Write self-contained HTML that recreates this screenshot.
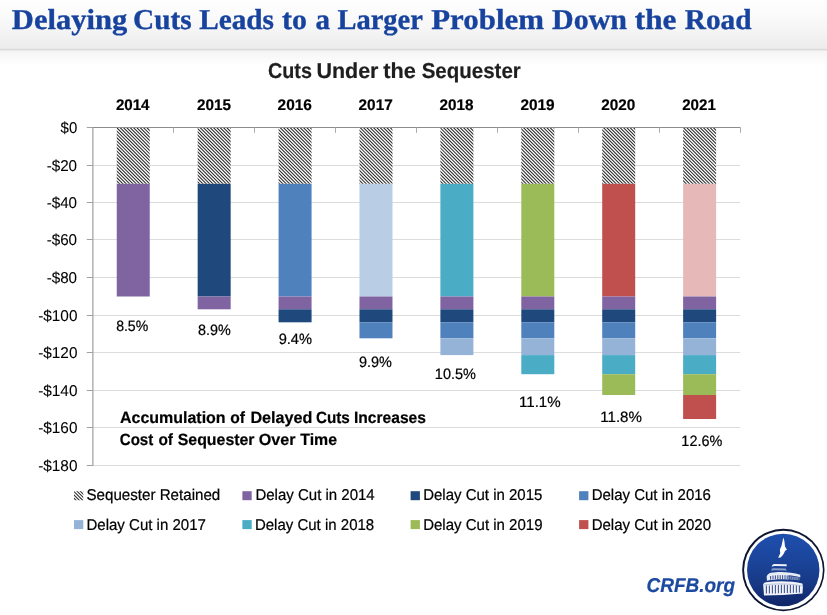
<!DOCTYPE html>
<html lang="en">
<head>
<meta charset="utf-8">
<title>Delaying Cuts Leads to a Larger Problem Down the Road</title>
<style>
html,body{margin:0;padding:0;background:#fff;}
body{width:827px;height:615px;overflow:hidden;}
svg{display:block;}
text{white-space:pre;text-rendering:geometricPrecision;}
.t{font-family:"Liberation Serif",serif;font-weight:bold;fill:#17439E;stroke:#17439E;stroke-width:0.35px;}
.s{font-family:"Liberation Sans",sans-serif;fill:#000;}
.r{stroke:#000;stroke-width:0.22px;}
.y{stroke:#000;stroke-width:0.08px;}
.b{font-weight:bold;stroke:#000;stroke-width:0.2px;}
.ct{fill:#1e1e1e;stroke:#1e1e1e;}
.cr{font-style:italic;fill:#1C4AA0;stroke:#1C4AA0;}
</style>
</head>
<body>
<svg width="827" height="615" viewBox="0 0 827 615" role="img" aria-label="Delaying Cuts Leads to a Larger Problem Down the Road">
<defs>
<linearGradient id="hd" x1="0" y1="0" x2="0" y2="1">
<stop offset="0" stop-color="#fefefe"/><stop offset="0.3" stop-color="#fbfbfb"/><stop offset="0.65" stop-color="#f4f4f4"/><stop offset="1" stop-color="#ebebeb"/>
</linearGradient>
<linearGradient id="hs" x1="0" y1="0" x2="0" y2="1">
<stop offset="0" stop-color="#f4f4f4"/><stop offset="1" stop-color="#ffffff"/>
</linearGradient>
<linearGradient id="lg" x1="0" y1="0" x2="0" y2="1">
<stop offset="0" stop-color="#1E4FAE"/><stop offset="0.35" stop-color="#1B459C"/><stop offset="0.7" stop-color="#173884"/><stop offset="1" stop-color="#112568"/>
</linearGradient>
<clipPath id="hc">
<rect x="116.75" y="127.50" width="33.00" height="56.30"/>
<rect x="197.66" y="127.50" width="33.00" height="56.30"/>
<rect x="278.57" y="127.50" width="33.00" height="56.30"/>
<rect x="359.48" y="127.50" width="33.00" height="56.30"/>
<rect x="440.39" y="127.50" width="33.00" height="56.30"/>
<rect x="521.30" y="127.50" width="33.00" height="56.30"/>
<rect x="602.21" y="127.50" width="33.00" height="56.30"/>
<rect x="683.12" y="127.50" width="33.00" height="56.30"/>
<rect x="74.00" y="491.20" width="9.30" height="9.00"/>
</clipPath>
</defs>
<rect x="0" y="0" width="827" height="615" fill="#fff"/>
<g id="header">
<rect x="0" y="0" width="827" height="49" fill="url(#hd)"/>
<rect x="0" y="48.8" width="827" height="2" fill="#dadada"/>
<rect x="0" y="50.6" width="827" height="15" fill="url(#hs)"/>
<text class="t" y="29.0" font-size="28.8"><tspan x="11.86" textLength="115.33" lengthAdjust="spacingAndGlyphs">Delaying</tspan> <tspan x="133.02" textLength="58.63" lengthAdjust="spacingAndGlyphs">Cuts</tspan> <tspan x="199.15" textLength="74.86" lengthAdjust="spacingAndGlyphs">Leads</tspan> <tspan x="282.12" textLength="24.92" lengthAdjust="spacingAndGlyphs">to</tspan> <tspan x="315.44" textLength="14.48" lengthAdjust="spacingAndGlyphs">a</tspan> <tspan x="337.40" textLength="85.02" lengthAdjust="spacingAndGlyphs">Larger</tspan> <tspan x="431.26" textLength="112.72" lengthAdjust="spacingAndGlyphs">Problem</tspan> <tspan x="552.11" textLength="74.93" lengthAdjust="spacingAndGlyphs">Down</tspan> <tspan x="634.84" textLength="41.59" lengthAdjust="spacingAndGlyphs">the</tspan> <tspan x="684.72" textLength="66.77" lengthAdjust="spacingAndGlyphs">Road</tspan></text>
</g>
<g id="chart">
<text class="s b ct" y="77.8" font-size="21.6"><tspan x="267.98" textLength="43.93" lengthAdjust="spacingAndGlyphs">Cuts</tspan> <tspan x="316.39" textLength="62.06" lengthAdjust="spacingAndGlyphs">Under</tspan> <tspan x="383.26" textLength="32.61" lengthAdjust="spacingAndGlyphs">the</tspan> <tspan x="421.65" textLength="99.14" lengthAdjust="spacingAndGlyphs">Sequester</tspan></text>
<g id="gridlines" fill="#dcdcdc">
<rect x="93.0" y="165" width="647.3" height="1"/>
<rect x="93.0" y="202" width="647.3" height="1"/>
<rect x="93.0" y="239" width="647.3" height="1"/>
<rect x="93.0" y="277" width="647.3" height="1"/>
<rect x="93.0" y="315" width="647.3" height="1"/>
<rect x="93.0" y="352" width="647.3" height="1"/>
<rect x="93.0" y="390" width="647.3" height="1"/>
<rect x="93.0" y="427" width="647.3" height="1"/>
<rect x="93.0" y="465" width="647.3" height="1"/>
</g>
<g id="bars">
<rect x="116.75" y="127.5" width="33.0" height="56.30" fill="#fff"/>
<rect x="116.75" y="183.80" width="33.0" height="112.70" fill="#8064A2"/>
<rect x="197.66" y="127.5" width="33.0" height="56.30" fill="#fff"/>
<rect x="197.66" y="183.80" width="33.0" height="112.70" fill="#1F497D"/>
<rect x="197.66" y="296.50" width="33.0" height="12.80" fill="#8064A2"/>
<rect x="278.57" y="127.5" width="33.0" height="56.30" fill="#fff"/>
<rect x="278.57" y="183.80" width="33.0" height="112.70" fill="#4F81BD"/>
<rect x="278.57" y="296.50" width="33.0" height="12.80" fill="#8064A2"/>
<rect x="278.57" y="309.30" width="33.0" height="13.00" fill="#1F497D"/>
<rect x="359.48" y="127.5" width="33.0" height="56.30" fill="#fff"/>
<rect x="359.48" y="183.80" width="33.0" height="112.70" fill="#B9CDE5"/>
<rect x="359.48" y="296.50" width="33.0" height="12.80" fill="#8064A2"/>
<rect x="359.48" y="309.30" width="33.0" height="13.00" fill="#1F497D"/>
<rect x="359.48" y="322.30" width="33.0" height="16.00" fill="#4F81BD"/>
<rect x="440.39" y="127.5" width="33.0" height="56.30" fill="#fff"/>
<rect x="440.39" y="183.80" width="33.0" height="112.70" fill="#4BACC6"/>
<rect x="440.39" y="296.50" width="33.0" height="12.80" fill="#8064A2"/>
<rect x="440.39" y="309.30" width="33.0" height="13.00" fill="#1F497D"/>
<rect x="440.39" y="322.30" width="33.0" height="16.00" fill="#4F81BD"/>
<rect x="440.39" y="338.30" width="33.0" height="16.80" fill="#95B3D7"/>
<rect x="521.30" y="127.5" width="33.0" height="56.30" fill="#fff"/>
<rect x="521.30" y="183.80" width="33.0" height="112.70" fill="#9BBB59"/>
<rect x="521.30" y="296.50" width="33.0" height="12.80" fill="#8064A2"/>
<rect x="521.30" y="309.30" width="33.0" height="13.00" fill="#1F497D"/>
<rect x="521.30" y="322.30" width="33.0" height="16.00" fill="#4F81BD"/>
<rect x="521.30" y="338.30" width="33.0" height="16.80" fill="#95B3D7"/>
<rect x="521.30" y="355.10" width="33.0" height="19.10" fill="#4BACC6"/>
<rect x="602.21" y="127.5" width="33.0" height="56.30" fill="#fff"/>
<rect x="602.21" y="183.80" width="33.0" height="112.70" fill="#C0504D"/>
<rect x="602.21" y="296.50" width="33.0" height="12.80" fill="#8064A2"/>
<rect x="602.21" y="309.30" width="33.0" height="13.00" fill="#1F497D"/>
<rect x="602.21" y="322.30" width="33.0" height="16.00" fill="#4F81BD"/>
<rect x="602.21" y="338.30" width="33.0" height="16.80" fill="#95B3D7"/>
<rect x="602.21" y="355.10" width="33.0" height="19.10" fill="#4BACC6"/>
<rect x="602.21" y="374.20" width="33.0" height="20.80" fill="#9BBB59"/>
<rect x="683.12" y="127.5" width="33.0" height="56.30" fill="#fff"/>
<rect x="683.12" y="183.80" width="33.0" height="112.70" fill="#E6B9B8"/>
<rect x="683.12" y="296.50" width="33.0" height="12.80" fill="#8064A2"/>
<rect x="683.12" y="309.30" width="33.0" height="13.00" fill="#1F497D"/>
<rect x="683.12" y="322.30" width="33.0" height="16.00" fill="#4F81BD"/>
<rect x="683.12" y="338.30" width="33.0" height="16.80" fill="#95B3D7"/>
<rect x="683.12" y="355.10" width="33.0" height="19.10" fill="#4BACC6"/>
<rect x="683.12" y="374.20" width="33.0" height="20.80" fill="#9BBB59"/>
<rect x="683.12" y="395.00" width="33.0" height="24.00" fill="#C0504D"/>
<path clip-path="url(#hc)" d="M115.8,90.0L150.8,125.0M115.8,93.3L150.8,128.3M115.8,96.7L150.8,131.7M115.8,100.0L150.8,135.0M115.8,103.3L150.8,138.3M115.8,106.7L150.8,141.7M115.8,110.0L150.8,145.0M115.8,113.3L150.8,148.3M115.8,116.7L150.8,151.7M115.8,120.0L150.8,155.0M115.8,123.3L150.8,158.3M115.8,126.7L150.8,161.7M115.8,130.0L150.8,165.0M115.8,133.3L150.8,168.3M115.8,136.7L150.8,171.7M115.8,140.0L150.8,175.0M115.8,143.3L150.8,178.3M115.8,146.7L150.8,181.7M115.8,150.0L150.8,185.0M115.8,153.3L150.8,188.3M115.8,156.7L150.8,191.7M115.8,160.0L150.8,195.0M115.8,163.3L150.8,198.3M115.8,166.7L150.8,201.7M115.8,170.0L150.8,205.0M115.8,173.3L150.8,208.3M115.8,176.7L150.8,211.7M115.8,180.0L150.8,215.0M115.8,183.3L150.8,218.3M115.8,186.7L150.8,221.7M115.8,190.0L150.8,225.0M196.7,90.9L231.7,125.9M196.7,94.2L231.7,129.2M196.7,97.6L231.7,132.6M196.7,100.9L231.7,135.9M196.7,104.2L231.7,139.2M196.7,107.6L231.7,142.6M196.7,110.9L231.7,145.9M196.7,114.2L231.7,149.2M196.7,117.6L231.7,152.6M196.7,120.9L231.7,155.9M196.7,124.2L231.7,159.2M196.7,127.6L231.7,162.6M196.7,130.9L231.7,165.9M196.7,134.2L231.7,169.2M196.7,137.6L231.7,172.6M196.7,140.9L231.7,175.9M196.7,144.2L231.7,179.2M196.7,147.6L231.7,182.6M196.7,150.9L231.7,185.9M196.7,154.2L231.7,189.2M196.7,157.6L231.7,192.6M196.7,160.9L231.7,195.9M196.7,164.2L231.7,199.2M196.7,167.6L231.7,202.6M196.7,170.9L231.7,205.9M196.7,174.2L231.7,209.2M196.7,177.6L231.7,212.6M196.7,180.9L231.7,215.9M196.7,184.2L231.7,219.2M196.7,187.6L231.7,222.6M277.6,88.5L312.6,123.5M277.6,91.8L312.6,126.8M277.6,95.1L312.6,130.1M277.6,98.5L312.6,133.5M277.6,101.8L312.6,136.8M277.6,105.1L312.6,140.1M277.6,108.5L312.6,143.5M277.6,111.8L312.6,146.8M277.6,115.1L312.6,150.1M277.6,118.5L312.6,153.5M277.6,121.8L312.6,156.8M277.6,125.1L312.6,160.1M277.6,128.5L312.6,163.5M277.6,131.8L312.6,166.8M277.6,135.1L312.6,170.1M277.6,138.5L312.6,173.5M277.6,141.8L312.6,176.8M277.6,145.1L312.6,180.1M277.6,148.5L312.6,183.5M277.6,151.8L312.6,186.8M277.6,155.1L312.6,190.1M277.6,158.5L312.6,193.5M277.6,161.8L312.6,196.8M277.6,165.1L312.6,200.1M277.6,168.5L312.6,203.5M277.6,171.8L312.6,206.8M277.6,175.1L312.6,210.1M277.6,178.5L312.6,213.5M277.6,181.8L312.6,216.8M277.6,185.1L312.6,220.1M277.6,188.5L312.6,223.5M358.5,89.4L393.5,124.4M358.5,92.7L393.5,127.7M358.5,96.0L393.5,131.0M358.5,99.4L393.5,134.4M358.5,102.7L393.5,137.7M358.5,106.0L393.5,141.0M358.5,109.4L393.5,144.4M358.5,112.7L393.5,147.7M358.5,116.0L393.5,151.0M358.5,119.4L393.5,154.4M358.5,122.7L393.5,157.7M358.5,126.0L393.5,161.0M358.5,129.4L393.5,164.4M358.5,132.7L393.5,167.7M358.5,136.0L393.5,171.0M358.5,139.4L393.5,174.4M358.5,142.7L393.5,177.7M358.5,146.0L393.5,181.0M358.5,149.4L393.5,184.4M358.5,152.7L393.5,187.7M358.5,156.0L393.5,191.0M358.5,159.4L393.5,194.4M358.5,162.7L393.5,197.7M358.5,166.0L393.5,201.0M358.5,169.4L393.5,204.4M358.5,172.7L393.5,207.7M358.5,176.0L393.5,211.0M358.5,179.4L393.5,214.4M358.5,182.7L393.5,217.7M358.5,186.0L393.5,221.0M358.5,189.4L393.5,224.4M439.4,90.3L474.4,125.3M439.4,93.6L474.4,128.6M439.4,97.0L474.4,132.0M439.4,100.3L474.4,135.3M439.4,103.6L474.4,138.6M439.4,107.0L474.4,142.0M439.4,110.3L474.4,145.3M439.4,113.6L474.4,148.6M439.4,117.0L474.4,152.0M439.4,120.3L474.4,155.3M439.4,123.6L474.4,158.6M439.4,127.0L474.4,162.0M439.4,130.3L474.4,165.3M439.4,133.6L474.4,168.6M439.4,137.0L474.4,172.0M439.4,140.3L474.4,175.3M439.4,143.6L474.4,178.6M439.4,147.0L474.4,182.0M439.4,150.3L474.4,185.3M439.4,153.6L474.4,188.6M439.4,157.0L474.4,192.0M439.4,160.3L474.4,195.3M439.4,163.6L474.4,198.6M439.4,167.0L474.4,202.0M439.4,170.3L474.4,205.3M439.4,173.6L474.4,208.6M439.4,177.0L474.4,212.0M439.4,180.3L474.4,215.3M439.4,183.6L474.4,218.6M439.4,187.0L474.4,222.0M439.4,190.3L474.4,225.3M520.3,87.9L555.3,122.9M520.3,91.2L555.3,126.2M520.3,94.5L555.3,129.5M520.3,97.9L555.3,132.9M520.3,101.2L555.3,136.2M520.3,104.5L555.3,139.5M520.3,107.9L555.3,142.9M520.3,111.2L555.3,146.2M520.3,114.5L555.3,149.5M520.3,117.9L555.3,152.9M520.3,121.2L555.3,156.2M520.3,124.5L555.3,159.5M520.3,127.9L555.3,162.9M520.3,131.2L555.3,166.2M520.3,134.5L555.3,169.5M520.3,137.9L555.3,172.9M520.3,141.2L555.3,176.2M520.3,144.5L555.3,179.5M520.3,147.9L555.3,182.9M520.3,151.2L555.3,186.2M520.3,154.5L555.3,189.5M520.3,157.9L555.3,192.9M520.3,161.2L555.3,196.2M520.3,164.5L555.3,199.5M520.3,167.9L555.3,202.9M520.3,171.2L555.3,206.2M520.3,174.5L555.3,209.5M520.3,177.9L555.3,212.9M520.3,181.2L555.3,216.2M520.3,184.5L555.3,219.5M520.3,187.9L555.3,222.9M601.2,88.8L636.2,123.8M601.2,92.1L636.2,127.1M601.2,95.4L636.2,130.4M601.2,98.8L636.2,133.8M601.2,102.1L636.2,137.1M601.2,105.4L636.2,140.4M601.2,108.8L636.2,143.8M601.2,112.1L636.2,147.1M601.2,115.4L636.2,150.4M601.2,118.8L636.2,153.8M601.2,122.1L636.2,157.1M601.2,125.4L636.2,160.4M601.2,128.8L636.2,163.8M601.2,132.1L636.2,167.1M601.2,135.4L636.2,170.4M601.2,138.8L636.2,173.8M601.2,142.1L636.2,177.1M601.2,145.4L636.2,180.4M601.2,148.8L636.2,183.8M601.2,152.1L636.2,187.1M601.2,155.4L636.2,190.4M601.2,158.8L636.2,193.8M601.2,162.1L636.2,197.1M601.2,165.4L636.2,200.4M601.2,168.8L636.2,203.8M601.2,172.1L636.2,207.1M601.2,175.4L636.2,210.4M601.2,178.8L636.2,213.8M601.2,182.1L636.2,217.1M601.2,185.4L636.2,220.4M601.2,188.8L636.2,223.8M682.1,89.7L717.1,124.7M682.1,93.0L717.1,128.0M682.1,96.4L717.1,131.4M682.1,99.7L717.1,134.7M682.1,103.0L717.1,138.0M682.1,106.4L717.1,141.4M682.1,109.7L717.1,144.7M682.1,113.0L717.1,148.0M682.1,116.4L717.1,151.4M682.1,119.7L717.1,154.7M682.1,123.0L717.1,158.0M682.1,126.4L717.1,161.4M682.1,129.7L717.1,164.7M682.1,133.0L717.1,168.0M682.1,136.4L717.1,171.4M682.1,139.7L717.1,174.7M682.1,143.0L717.1,178.0M682.1,146.4L717.1,181.4M682.1,149.7L717.1,184.7M682.1,153.0L717.1,188.0M682.1,156.4L717.1,191.4M682.1,159.7L717.1,194.7M682.1,163.0L717.1,198.0M682.1,166.4L717.1,201.4M682.1,169.7L717.1,204.7M682.1,173.0L717.1,208.0M682.1,176.4L717.1,211.4M682.1,179.7L717.1,214.7M682.1,183.0L717.1,218.0M682.1,186.4L717.1,221.4M682.1,189.7L717.1,224.7M73.0,477.2L84.3,488.5M73.0,480.6L84.3,491.9M73.0,483.9L84.3,495.2M73.0,487.2L84.3,498.5M73.0,490.6L84.3,501.9M73.0,493.9L84.3,505.2M73.0,497.2L84.3,508.5M73.0,500.6L84.3,511.9M73.0,503.9L84.3,515.2" stroke="#2a2a2a" stroke-width="1.06" fill="none"/>
</g>
<g id="axes">
<rect x="92.4" y="127.0" width="1" height="338.95" fill="#8c8c8c"/>
<rect x="92.5" y="127.0" width="647.8" height="1" fill="#8c8c8c"/>
<rect x="86.8" y="127" width="6" height="1" fill="#a0a0a0"/>
<rect x="86.8" y="165" width="6" height="1" fill="#a0a0a0"/>
<rect x="86.8" y="202" width="6" height="1" fill="#a0a0a0"/>
<rect x="86.8" y="239" width="6" height="1" fill="#a0a0a0"/>
<rect x="86.8" y="277" width="6" height="1" fill="#a0a0a0"/>
<rect x="86.8" y="315" width="6" height="1" fill="#a0a0a0"/>
<rect x="86.8" y="352" width="6" height="1" fill="#a0a0a0"/>
<rect x="86.8" y="390" width="6" height="1" fill="#a0a0a0"/>
<rect x="86.8" y="427" width="6" height="1" fill="#a0a0a0"/>
<rect x="86.8" y="465" width="6" height="1" fill="#a0a0a0"/>
<rect x="173" y="127.5" width="1" height="5.3" fill="#aaaaaa"/>
<rect x="254" y="127.5" width="1" height="5.3" fill="#aaaaaa"/>
<rect x="335" y="127.5" width="1" height="5.3" fill="#aaaaaa"/>
<rect x="416" y="127.5" width="1" height="5.3" fill="#aaaaaa"/>
<rect x="497" y="127.5" width="1" height="5.3" fill="#aaaaaa"/>
<rect x="578" y="127.5" width="1" height="5.3" fill="#aaaaaa"/>
<rect x="659" y="127.5" width="1" height="5.3" fill="#aaaaaa"/>
<rect x="740" y="127.5" width="1" height="5.3" fill="#aaaaaa"/>
</g>
<g id="yearlabels">
<text class="s b" x="115.89" y="110.3" font-size="15.4" textLength="33.65" lengthAdjust="spacingAndGlyphs">2014</text>
<text class="s b" x="196.93" y="110.3" font-size="15.4" textLength="34.00" lengthAdjust="spacingAndGlyphs">2015</text>
<text class="s b" x="277.55" y="110.3" font-size="15.4" textLength="34.33" lengthAdjust="spacingAndGlyphs">2016</text>
<text class="s b" x="358.59" y="110.3" font-size="15.4" textLength="34.12" lengthAdjust="spacingAndGlyphs">2017</text>
<text class="s b" x="439.40" y="110.3" font-size="15.4" textLength="34.02" lengthAdjust="spacingAndGlyphs">2018</text>
<text class="s b" x="520.38" y="110.3" font-size="15.4" textLength="34.21" lengthAdjust="spacingAndGlyphs">2019</text>
<text class="s b" x="601.17" y="110.3" font-size="15.4" textLength="34.06" lengthAdjust="spacingAndGlyphs">2020</text>
<text class="s b" x="682.20" y="110.3" font-size="15.4" textLength="33.68" lengthAdjust="spacingAndGlyphs">2021</text>
</g>
<g id="ylabels">
<text class="s y" x="60.61" y="132.6" font-size="15.7" textLength="16.63" lengthAdjust="spacingAndGlyphs">$0</text>
<text class="s y" x="46.63" y="170.6" font-size="15.7" textLength="30.47" lengthAdjust="spacingAndGlyphs">-$20</text>
<text class="s y" x="46.63" y="207.6" font-size="15.7" textLength="30.47" lengthAdjust="spacingAndGlyphs">-$40</text>
<text class="s y" x="46.63" y="244.6" font-size="15.7" textLength="30.47" lengthAdjust="spacingAndGlyphs">-$60</text>
<text class="s y" x="46.63" y="282.6" font-size="15.7" textLength="30.47" lengthAdjust="spacingAndGlyphs">-$80</text>
<text class="s y" x="38.16" y="320.6" font-size="15.7" textLength="39.26" lengthAdjust="spacingAndGlyphs">-$100</text>
<text class="s y" x="38.16" y="357.6" font-size="15.7" textLength="39.26" lengthAdjust="spacingAndGlyphs">-$120</text>
<text class="s y" x="38.16" y="395.6" font-size="15.7" textLength="39.26" lengthAdjust="spacingAndGlyphs">-$140</text>
<text class="s y" x="38.16" y="432.6" font-size="15.7" textLength="39.26" lengthAdjust="spacingAndGlyphs">-$160</text>
<text class="s y" x="38.16" y="470.6" font-size="15.7" textLength="39.26" lengthAdjust="spacingAndGlyphs">-$180</text>
</g>
<g id="datalabels">
<text class="s r" x="116.15" y="330.9" font-size="15.0" textLength="32.05" lengthAdjust="spacingAndGlyphs">8.5%</text>
<text class="s r" x="197.97" y="334.5" font-size="15.0" textLength="32.72" lengthAdjust="spacingAndGlyphs">8.9%</text>
<text class="s r" x="278.68" y="344.3" font-size="15.0" textLength="33.29" lengthAdjust="spacingAndGlyphs">9.4%</text>
<text class="s r" x="359.07" y="366.9" font-size="15.0" textLength="32.90" lengthAdjust="spacingAndGlyphs">9.9%</text>
<text class="s r" x="434.86" y="379.1" font-size="15.0" textLength="41.05" lengthAdjust="spacingAndGlyphs">10.5%</text>
<text class="s r" x="519.00" y="406.5" font-size="15.0" textLength="41.66" lengthAdjust="spacingAndGlyphs">11.1%</text>
<text class="s r" x="600.24" y="422.2" font-size="15.0" textLength="41.67" lengthAdjust="spacingAndGlyphs">11.8%</text>
<text class="s r" x="681.36" y="446.2" font-size="15.0" textLength="40.94" lengthAdjust="spacingAndGlyphs">12.6%</text>
</g>
<g id="annotation">
<text class="s b" y="422.9" font-size="16.3"><tspan x="119.96" textLength="105.64" lengthAdjust="spacingAndGlyphs">Accumulation</tspan> <tspan x="230.16" textLength="14.75" lengthAdjust="spacingAndGlyphs">of</tspan> <tspan x="250.42" textLength="62.03" lengthAdjust="spacingAndGlyphs">Delayed</tspan> <tspan x="315.89" textLength="33.88" lengthAdjust="spacingAndGlyphs">Cuts</tspan> <tspan x="354.02" textLength="71.95" lengthAdjust="spacingAndGlyphs">Increases</tspan></text>
<text class="s b" y="445.1" font-size="16.3"><tspan x="119.72" textLength="33.57" lengthAdjust="spacingAndGlyphs">Cost</tspan> <tspan x="158.40" textLength="14.60" lengthAdjust="spacingAndGlyphs">of</tspan> <tspan x="177.73" textLength="76.84" lengthAdjust="spacingAndGlyphs">Sequester</tspan> <tspan x="258.82" textLength="36.77" lengthAdjust="spacingAndGlyphs">Over</tspan> <tspan x="300.26" textLength="36.73" lengthAdjust="spacingAndGlyphs">Time</tspan></text>
</g>
<g id="legend">
<text class="s r" x="86.49" y="500.4" font-size="15.6" textLength="133.77" lengthAdjust="spacingAndGlyphs">Sequester Retained</text>
<rect x="242.4" y="491.2" width="9.3" height="9.0" fill="#8064A2"/>
<text class="s r" x="255.45" y="500.4" font-size="15.6" textLength="119.24" lengthAdjust="spacingAndGlyphs">Delay Cut in 2014</text>
<rect x="410.6" y="491.2" width="9.3" height="9.0" fill="#1F497D"/>
<text class="s r" x="423.13" y="500.4" font-size="15.6" textLength="119.24" lengthAdjust="spacingAndGlyphs">Delay Cut in 2015</text>
<rect x="579.1" y="491.2" width="9.3" height="9.0" fill="#4F81BD"/>
<text class="s r" x="591.65" y="500.4" font-size="15.6" textLength="119.30" lengthAdjust="spacingAndGlyphs">Delay Cut in 2016</text>
<rect x="74.0" y="520.1" width="9.3" height="9.0" fill="#95B3D7"/>
<text class="s r" x="86.42" y="529.5" font-size="15.6" textLength="119.54" lengthAdjust="spacingAndGlyphs">Delay Cut in 2017</text>
<rect x="242.4" y="520.1" width="9.3" height="9.0" fill="#4BACC6"/>
<text class="s r" x="254.88" y="529.5" font-size="15.6" textLength="119.30" lengthAdjust="spacingAndGlyphs">Delay Cut in 2018</text>
<rect x="410.6" y="520.1" width="9.3" height="9.0" fill="#9BBB59"/>
<text class="s r" x="423.13" y="529.5" font-size="15.6" textLength="119.37" lengthAdjust="spacingAndGlyphs">Delay Cut in 2019</text>
<rect x="579.1" y="520.1" width="9.3" height="9.0" fill="#C0504D"/>
<text class="s r" x="591.66" y="529.5" font-size="15.6" textLength="119.39" lengthAdjust="spacingAndGlyphs">Delay Cut in 2020</text>
</g>
</g>
<g id="brand">
<text class="s b cr" x="646.47" y="591.6" font-size="20.0" textLength="88.55" lengthAdjust="spacingAndGlyphs">CRFB.org</text>
<g id="logo">
<circle cx="783.33" cy="570" r="41.2" fill="#0C1430"/>
<circle cx="783.5" cy="570.1" r="39.4" fill="#fff"/>
<circle cx="783.25" cy="569.95" r="36.2" fill="url(#lg)"/>
<g fill="#fff">
<path id="statue" d="M783.35,537.5 L784.4,540.9 L784.7,543.7 L785.05,546.4 L786.1,548.2 L786.9,549.8 L785.1,550.8 L784,553.2 L782.7,555.3 L780.6,557.5 L778.2,557.7 L779.25,555.3 L780.3,553.2 L779.9,550.5 L780.3,548.4 L781.3,546.4 L782,543.7 L782.5,540.9 Z"/>
<g id="tier1" opacity="0.92">
<path d="M771.6,566.4 C772.2,565 773,564.3 774.2,564.1 L786.6,564.2 L786.8,566.3 L775,566 C773.6,566.1 772.6,566.6 771.6,566.4 Z"/>
<path d="M771.2,570.6 C771.4,569.4 772,568.6 773,568.3 L785.5,568.6 L787,570.4 L773.4,570.2 C772.6,570.3 771.9,570.8 771.2,570.6 Z" opacity="0.55"/>
</g>
<g id="tier2">
<path d="M766.6,576.6 C767.2,574.6 768.6,573.4 771,572.8 C779,571.4 791,571.8 800.2,574.8 L800.4,577.2 C796,576 792,575.4 788.4,575.2 L788.6,579.6 C780,579 773,579.6 767,580.8 Z" opacity="0.9"/>
<path d="M789.5,576.2 L799.6,577.6 L799.4,580.2 L789.6,579.4 Z" opacity="0.45"/>
</g>
<g id="tier3">
<path d="M763.2,584.4 C763.6,583 764.6,582.4 766,582.2 C778,580.6 792,580.8 802.4,583.6 L802.9,586 L802.5,593.4 C790,594.6 776,595.4 764,595.4 Z" opacity="0.94"/>
</g>
</g>
<g id="cols" stroke="#15307A" fill="none">
<path d="M770.6,576 V579.6 M773,575.6 V579.4 M775.4,575.4 V579.2 M777.8,575.2 V579.2 M780.2,575.2 V579 M782.6,575.2 V579 M785,575.2 V579 M787.2,575.4 V579" stroke-width="1" opacity="0.85"/>
<path d="M791.4,577 V579.4 M793.8,577.2 V579.6 M796.2,577.4 V579.8 M798.4,577.8 V580" stroke-width="0.9" opacity="0.6"/>
<path d="M766.4,585.6 V593.4 M769.4,585.4 V593.4 M772.4,585.2 V593.4 M775.4,585 V593.4 M778.4,585 V593.2 M781.4,584.8 V593.2 M784.4,584.8 V593 M787.4,585 V593 M790.4,585 V593 M793.4,585.2 V592.8 M796.4,585.4 V592.8 M799.4,585.8 V592.6" stroke-width="1.1" opacity="0.8"/>
<path d="M764,584.9 C777,583.4 790,583.6 802.6,586" stroke-width="0.5" opacity="0.5"/>
</g>
</g>
</g>
</svg>
</body>
</html>
